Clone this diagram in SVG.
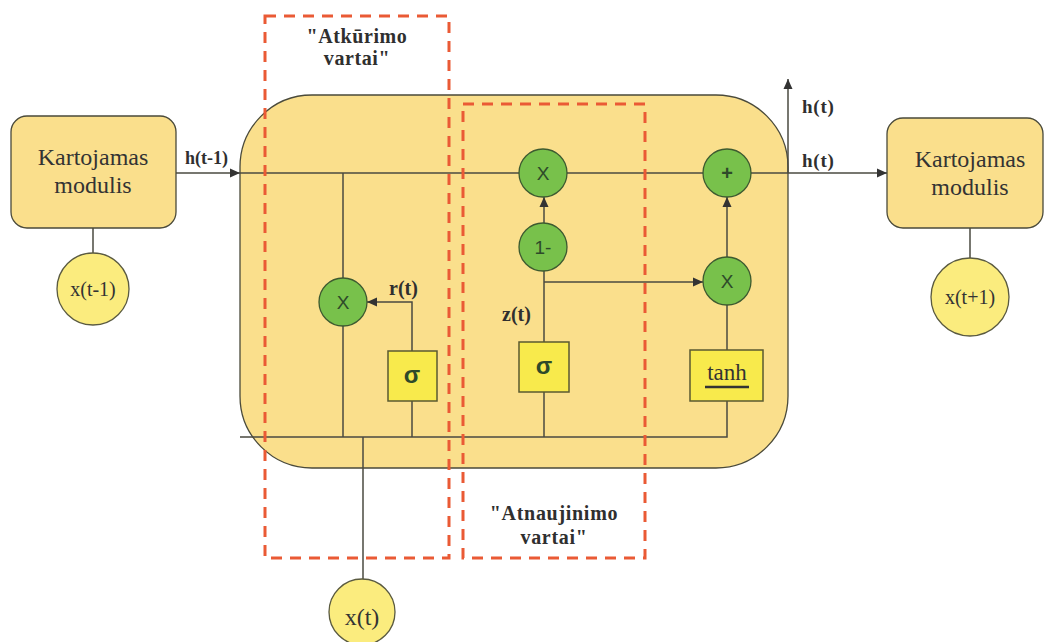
<svg xmlns="http://www.w3.org/2000/svg" width="1044" height="642" viewBox="0 0 1044 642">
<defs>
<marker id="ah" viewBox="0 0 10 10" refX="10" refY="5" markerWidth="10" markerHeight="10" markerUnits="userSpaceOnUse" orient="auto">
<path d="M0,0.5 L10,5 L0,9.5 Z" fill="#333"/>
</marker>
<style>
.mod{fill:#FADF8C;stroke:#4a4a3a;stroke-width:1.3}
.ln{fill:none;stroke:#4a4a40;stroke-width:1.5}
.ar{fill:none;stroke:#4a4a40;stroke-width:1.5;marker-end:url(#ah)}
.g{fill:#78C14B;stroke:#3d5a30;stroke-width:1.3}
.yc{fill:#FBEC7E;stroke:#5a5a40;stroke-width:1.3}
.sb{fill:#F8EA4C;stroke:#5a5a30;stroke-width:1.5}
.dash{fill:none;stroke:#EA5A35;stroke-width:3;stroke-dasharray:11 8}
.st{font-family:"Liberation Serif",serif;fill:#333;text-anchor:middle}
.bl{font-family:"Liberation Serif",serif;font-weight:bold;fill:#2f2f2f}
.op{font-family:"Liberation Sans",sans-serif;fill:#2e4a2a;text-anchor:middle}
</style>
</defs>
<rect id="cell" x="240" y="95" width="548" height="373" rx="72" class="mod"/>
<g id="connectors">
<line x1="176" y1="173" x2="240" y2="173" class="ar"/>
<line x1="240" y1="173" x2="887" y2="173" class="ar"/>
<line x1="788" y1="173" x2="788" y2="79" class="ar"/>
<line x1="93" y1="228" x2="93" y2="253" class="ln"/>
<line x1="970" y1="228" x2="970" y2="258" class="ln"/>
<line x1="343" y1="173" x2="343" y2="437" class="ln"/>
<path d="M412,351 V302 H367" class="ar"/>
<line x1="412" y1="401" x2="412" y2="437" class="ln"/>
<line x1="544" y1="342" x2="544" y2="271" class="ln"/>
<line x1="544" y1="223" x2="544" y2="197" class="ar"/>
<path d="M544,282 H703" class="ar"/>
<line x1="544" y1="392" x2="544" y2="437" class="ln"/>
<line x1="727" y1="350" x2="727" y2="305" class="ln"/>
<line x1="727" y1="257" x2="727" y2="197" class="ar"/>
<path d="M727,401 V437 H240" class="ln"/>
<line x1="363" y1="580" x2="363" y2="437" class="ln"/>
</g>
<g id="prev-module">
<rect x="11" y="116" width="165" height="112" rx="16" class="mod"/>
<text x="93" y="165" class="st" font-size="24">Kartojamas</text>
<text x="93" y="193" class="st" font-size="24">modulis</text>
</g>
<g id="next-module">
<rect x="887" y="118" width="156" height="110" rx="16" class="mod"/>
<text x="970" y="167" class="st" font-size="24">Kartojamas</text>
<text x="970" y="195" class="st" font-size="24">modulis</text>
</g>
<g id="x-prev">
<circle cx="93" cy="289" r="36" class="yc"/>
<text x="93" y="296" class="st" font-size="20">x(t-1)</text>
</g>
<g id="x-next">
<circle cx="970" cy="297" r="39" class="yc"/>
<text x="970" y="304" class="st" font-size="20">x(t+1)</text>
</g>
<g id="x-t">
<circle cx="362" cy="612" r="33" class="yc"/>
<text x="362" y="625" class="st" font-size="24">x(t)</text>
</g>
<g id="mul-r">
<circle cx="343" cy="302" r="24" class="g"/>
<text x="343" y="309" class="op" font-size="19">X</text>
</g>
<g id="mul-top">
<circle cx="543" cy="173" r="24" class="g"/>
<text x="543" y="180" class="op" font-size="19">X</text>
</g>
<g id="one-minus">
<circle cx="543" cy="247" r="24" class="g"/>
<text x="543" y="254" class="op" font-size="19">1-</text>
</g>
<g id="plus">
<circle cx="727" cy="173" r="24" class="g"/>
<text x="727" y="180" class="op" font-size="20" font-weight="bold" fill="#222">+</text>
</g>
<g id="mul-z">
<circle cx="727" cy="281" r="24" class="g"/>
<text x="727" y="288" class="op" font-size="19">X</text>
</g>
<g id="sigma-r">
<rect x="388" y="351" width="49" height="50" class="sb"/>
<text x="412" y="383" class="op" font-size="24" font-weight="bold" fill="#222">σ</text>
</g>
<g id="sigma-z">
<rect x="519" y="342" width="50" height="50" class="sb"/>
<text x="544" y="374" class="op" font-size="24" font-weight="bold" fill="#222">σ</text>
</g>
<g id="tanh">
<rect x="690" y="350" width="73" height="51" class="sb"/>
<text x="727" y="380" class="st" font-size="23">tanh</text>
<line x1="705" y1="387" x2="749" y2="387" stroke="#333" stroke-width="2.5"/>
</g>
<g id="reset-gate">
<rect x="265" y="16" width="184" height="542" class="dash"/>
<text x="357" y="43" class="bl" font-size="20" text-anchor="middle" letter-spacing="0.6">"Atkūrimo</text>
<text x="357" y="65" class="bl" font-size="20" text-anchor="middle" letter-spacing="0.6">vartai"</text>
</g>
<g id="update-gate">
<rect x="463" y="104" width="182" height="454" class="dash"/>
<text x="554" y="520" class="bl" font-size="20" text-anchor="middle" letter-spacing="0.7">"Atnaujinimo</text>
<text x="554" y="544" class="bl" font-size="20" text-anchor="middle" letter-spacing="0.7">vartai"</text>
</g>
<g id="labels">
<text x="185" y="164" class="bl" font-size="18">h(t-1)</text>
<text x="802" y="113" class="bl" font-size="19" letter-spacing="0.8">h(t)</text>
<text x="802" y="167" class="bl" font-size="19" letter-spacing="0.8">h(t)</text>
<text x="389" y="295" class="bl" font-size="20">r(t)</text>
<text x="502" y="321" class="bl" font-size="20">z(t)</text>
</g>
</svg>
